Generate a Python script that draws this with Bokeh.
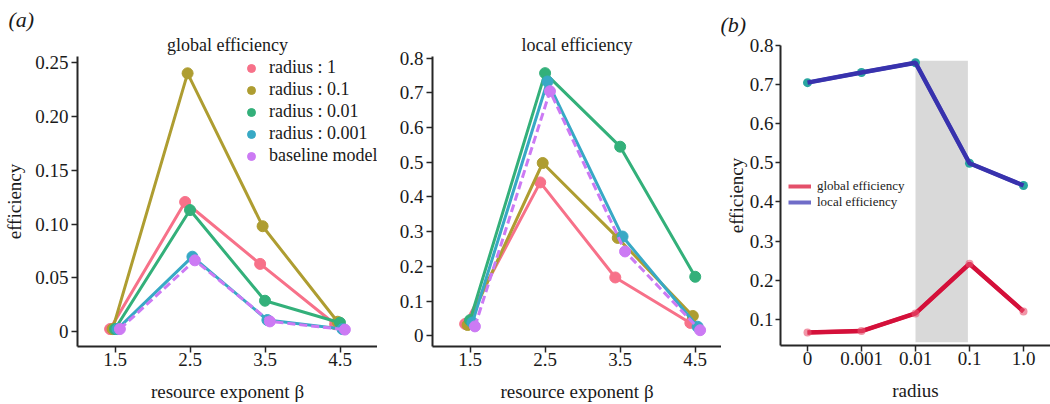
from bokeh.plotting import figure
from bokeh.layouts import row
from bokeh.models import Range1d, FixedTicker, Title, Legend, LegendItem
from bokeh.embed import file_html
from bokeh.resources import INLINE

# ---------------- data ----------------
beta = [1.5, 2.5, 3.5, 4.5]
series_names = ["radius : 1", "radius : 0.1", "radius : 0.01", "radius : 0.001", "baseline model"]
series_colors = ["#f77189", "#ae9d31", "#33b07a", "#38a9c5", "#cc7af4"]

global_r1 = [0.0025, 0.1205, 0.063, 0.007]
global_r01 = [0.0025, 0.240, 0.098, 0.0093]
global_r001 = [0.0025, 0.113, 0.0288, 0.0084]
global_r0001 = [0.0025, 0.0697, 0.0109, 0.0025]
global_base = [0.0025, 0.0663, 0.0096, 0.002]

local_r1 = [0.034, 0.442, 0.168, 0.037]
local_r01 = [0.031, 0.498, 0.282, 0.057]
local_r001 = [0.045, 0.757, 0.545, 0.170]
local_r0001 = [0.038, 0.733, 0.286, 0.026]
local_base = [0.027, 0.705, 0.243, 0.016]

radius_labels = ["0", "0.001", "0.01", "0.1", "1.0"]
radius_global = [0.066, 0.070, 0.115, 0.242, 0.120]
radius_local = [0.705, 0.731, 0.756, 0.499, 0.442]

FONT = "Liberation Serif"
AX = "#262626"
TXT = "#1a1a1a"


def style_axes(p, xlabel=None, ylabel=None):
    p.outline_line_color = None
    p.grid.visible = False
    p.background_fill_color = "white"
    for ax in (p.xaxis[0], p.yaxis[0]):
        ax.axis_line_color = AX
        ax.axis_line_width = 2
        ax.major_tick_line_color = AX
        ax.major_tick_line_width = 1.5
        ax.major_tick_in = 0
        ax.major_tick_out = 6
        ax.minor_tick_line_color = None
        ax.major_label_text_font = FONT
        ax.major_label_text_font_size = "19px"
        ax.major_label_text_font_style = "normal"
        ax.major_label_text_color = TXT
        ax.axis_label_text_font = FONT
        ax.axis_label_text_font_size = "19px"
        ax.axis_label_text_font_style = "normal"
        ax.axis_label_text_color = TXT
    p.xaxis[0].major_label_standoff = 0
    p.yaxis[0].major_label_standoff = 3
    p.xaxis[0].axis_label_standoff = 12
    p.yaxis[0].axis_label_standoff = 7
    if xlabel:
        p.xaxis[0].axis_label = xlabel
    if ylabel:
        p.yaxis[0].axis_label = ylabel


def add_title(p, text, size, style, align, offset, standoff):
    p.add_layout(Title(text=text, align=align, offset=offset, standoff=standoff,
                       text_font=FONT, text_font_size=size, text_font_style=style,
                       text_color=TXT), "above")


def beta_panel(title, series, yr, yticks, ylabels, left, width, xmax, ylabel, legend):
    p = figure(width=width, height=404, min_border_left=left, min_border_right=0,
               min_border_top=56, min_border_bottom=58, frame_align=False,
               x_range=Range1d(1.0, xmax), y_range=Range1d(*yr),
               output_backend="svg", toolbar_location=None)
    add_title(p, title, "18px", "normal", "center", 0, 3)
    style_axes(p, "resource exponent β", ylabel)
    p.xaxis[0].ticker = FixedTicker(ticks=beta)
    p.yaxis[0].ticker = FixedTicker(ticks=yticks)
    p.yaxis[0].major_label_overrides = {t: l for t, l in zip(yticks, ylabels)}
    p.xaxis[0].major_label_overrides = {b: str(b) for b in beta}
    offsets = [-0.065, -0.032, 0.0, 0.032, 0.065]
    items = []
    for vals, name, col, off in zip(series, series_names, series_colors, offsets):
        xs = [b + off for b in beta]
        dash = "8 4" if name == "baseline model" else "solid"
        p.line(xs, vals, line_color=col, line_width=3, line_dash=dash)
        r = p.scatter(xs, vals, size=11, fill_color=col, line_color=col)
        items.append(LegendItem(label=name, renderers=[r]))
    if legend:
        lg = Legend(items=items, location=(164, 180), padding=0, margin=0, spacing=1,
                    glyph_width=20, glyph_height=20, label_height=20, label_standoff=8,
                    border_line_color=None, background_fill_alpha=0,
                    label_text_font=FONT, label_text_font_size="18px",
                    label_text_font_style="normal", label_text_color=TXT)
        p.add_layout(lg, "center")
    return p


p1 = beta_panel("global efficiency",
                [global_r1, global_r01, global_r001, global_r0001, global_base],
                (-0.0137, 0.2556), [0, 0.05, 0.10, 0.15, 0.20, 0.25],
                ["0", "0.05", "0.10", "0.15", "0.20", "0.25"], 77, 377, 5.0, "efficiency", True)
add_title(p1, "(a)", "22px", "italic", "left", -69, 0)

p2 = beta_panel("local efficiency",
                [local_r1, local_r01, local_r001, local_r0001, local_base],
                (-0.031, 0.805), [0, 0.1, 0.2, 0.3, 0.4, 0.5, 0.6, 0.7, 0.8],
                ["0", "0.1", "0.2", "0.3", "0.4", "0.5", "0.6", "0.7", "0.8"], 55, 344, 4.85,
                None, False)

# ---------------- panel b ----------------
p3 = figure(width=329, height=404, min_border_left=59, min_border_right=0,
            min_border_top=45, min_border_bottom=59, frame_align=False,
            x_range=Range1d(-0.5, 4.5), y_range=Range1d(0.033, 0.8),
            output_backend="svg", toolbar_location=None)
style_axes(p3, "radius", "efficiency")
p3.yaxis[0].major_label_standoff = 2
p3.yaxis[0].axis_label_standoff = 0
p3.yaxis[0].major_tick_out = 5
add_title(p3, "(b)", "22px", "italic", "left", -60, 17)
xpos = list(range(len(radius_labels)))
p3.xaxis[0].ticker = FixedTicker(ticks=xpos)
p3.xaxis[0].major_label_overrides = {i: l for i, l in zip(xpos, radius_labels)}
yt3 = [0.1, 0.2, 0.3, 0.4, 0.5, 0.6, 0.7, 0.8]
p3.yaxis[0].ticker = FixedTicker(ticks=yt3)
p3.yaxis[0].major_label_overrides = {t: str(t) for t in yt3}

i_lo = radius_labels.index("0.01")
i_hi = radius_labels.index("0.1")
p3.quad(left=i_lo, right=i_hi - 0.03, bottom=0.041, top=0.761,
        fill_color="#d9d9d9", line_color=None)

# light copies for the legend (hidden under the real lines)
lg_l = p3.line(xpos, radius_local, line_color="#6f6cc8", line_width=4)
lg_g = p3.line(xpos, radius_global, line_color="#e4506a", line_width=4)

p3.scatter(xpos, radius_local, size=9, fill_color="#2aa5a0", line_color=None)
p3.line(xpos, radius_local, line_color="#3832ad", line_width=4.5)
p3.line(xpos, radius_global, line_color="#d4103a", line_width=4.5)
p3.scatter(xpos, radius_global, size=8, fill_color="#e8506e", line_color=None, fill_alpha=0.6)

lg3 = Legend(items=[LegendItem(label="global efficiency", renderers=[lg_g]),
                    LegendItem(label="local efficiency", renderers=[lg_l])],
             location=(8, 135), padding=0, margin=0, spacing=0,
             glyph_width=23, glyph_height=16, label_height=16, label_standoff=6,
             border_line_color=None, background_fill_alpha=0,
             label_text_font=FONT, label_text_font_size="13px",
             label_text_font_style="normal", label_text_color=TXT)
p3.add_layout(lg3, "center")

layout = row(p1, p2, p3, spacing=0)
open("out.html", "w").write(file_html(layout, INLINE))
